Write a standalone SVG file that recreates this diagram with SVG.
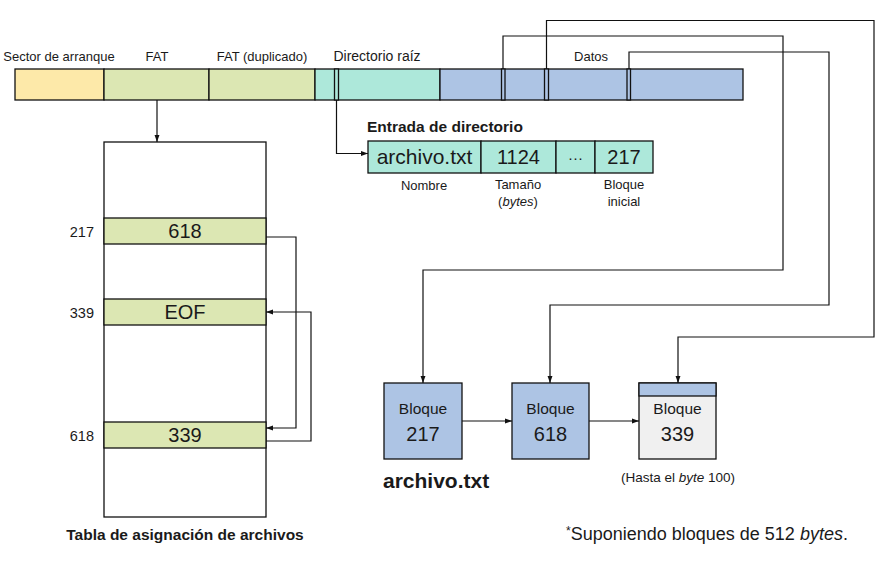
<svg xmlns="http://www.w3.org/2000/svg" width="880" height="566" viewBox="0 0 880 566">
<defs>
<marker id="ah" viewBox="0 0 10 10" refX="10" refY="5" markerWidth="7" markerHeight="7" markerUnits="userSpaceOnUse" orient="auto">
<path d="M0,1.5 L10,5 L0,8.5 z" fill="#111"/>
</marker>
<style>
text{font-family:"Liberation Sans","DejaVu Sans",sans-serif;fill:#1a1a1a}
.s{stroke:#111;stroke-width:1.3}
.l{fill:none;stroke:#111;stroke-width:1.2}
.a{fill:none;stroke:#111;stroke-width:1.2;marker-end:url(#ah)}
.lab{font-size:13px;text-anchor:middle}
.big{font-size:20px;text-anchor:middle}
.mid{font-size:15.5px;text-anchor:middle}
.y{fill:#fde9a9}.g{fill:#dce7b3}.t{fill:#ade8da}.bl{fill:#adc4e4}.w{fill:#fff}.gr{fill:#f0f0f0}
</style>
</defs>
<g id="disk">
<rect class="s y" x="15" y="69" width="89" height="31"/>
<rect class="s g" x="104" y="69" width="105" height="31"/>
<rect class="s g" x="209" y="69" width="106" height="31"/>
<rect class="s t" x="315" y="69" width="125" height="31"/>
<rect class="s t" x="334.5" y="69" width="4" height="31"/>
<rect class="s bl" x="440" y="69" width="303" height="31"/>
<rect class="s bl" x="501.5" y="69" width="3.5" height="31"/>
<rect class="s bl" x="544.5" y="69" width="4" height="31"/>
<rect class="s bl" x="627" y="69" width="3.5" height="31"/>
<text class="lab" x="59" y="61">Sector de arranque</text>
<text class="lab" x="157" y="61">FAT</text>
<text class="lab" x="262" y="61">FAT (duplicado)</text>
<text class="lab" x="377" y="61" style="font-size:14px">Directorio raíz</text>
<text class="lab" x="591" y="61">Datos</text>
</g>
<g id="entry">
<text x="367" y="132" style="font-size:15.5px;font-weight:bold">Entrada de directorio</text>
<rect class="s t" x="368" y="141" width="113" height="32"/>
<rect class="s t" x="481" y="141" width="75" height="32"/>
<rect class="s t" x="556" y="141" width="39" height="32"/>
<rect class="s t" x="595" y="141" width="58" height="32"/>
<text class="big" x="424.5" y="164" style="font-size:21px">archivo.txt</text>
<text class="big" x="518.5" y="164">1124</text>
<text class="big" x="575.5" y="163" style="font-size:15px">···</text>
<text class="big" x="624" y="164">217</text>
<text class="lab" x="424" y="190">Nombre</text>
<text class="lab" x="518" y="189">Tamaño</text>
<text class="lab" x="518" y="206">(<tspan font-style="italic">bytes</tspan>)</text>
<text class="lab" x="624" y="189">Bloque</text>
<text class="lab" x="624" y="206">inicial</text>
</g>
<g id="fat">
<rect class="s w" x="104" y="142" width="162" height="375"/>
<rect class="s g" x="104" y="218" width="162" height="26"/>
<rect class="s g" x="104" y="299" width="162" height="26"/>
<rect class="s g" x="104" y="422" width="162" height="26"/>
<text class="big" x="185" y="238">618</text>
<text class="big" x="185" y="319">EOF</text>
<text class="big" x="185" y="442">339</text>
<text x="94" y="237" style="font-size:14.5px;text-anchor:end">217</text>
<text x="94" y="318" style="font-size:14.5px;text-anchor:end">339</text>
<text x="94" y="441" style="font-size:14.5px;text-anchor:end">618</text>
<text x="185" y="540" style="font-size:15.5px;font-weight:bold;text-anchor:middle">Tabla de asignación de archivos</text>
</g>
<g id="block217">
<rect class="s bl" x="384" y="383" width="78" height="76"/>
<text class="mid" x="423" y="414">Bloque</text>
<text class="big" x="423" y="441">217</text>
</g>
<g id="block618">
<rect class="s bl" x="512" y="383" width="77" height="76"/>
<text class="mid" x="550.5" y="414">Bloque</text>
<text class="big" x="550.5" y="441">618</text>
</g>
<g id="block339">
<rect class="s gr" x="639" y="383" width="77" height="76"/>
<rect class="s bl" x="639" y="383" width="77" height="13"/>
<text class="mid" x="677.5" y="414">Bloque</text>
<text class="big" x="677.5" y="441">339</text>
<text x="678" y="482" style="font-size:13.5px;text-anchor:middle">(Hasta el <tspan font-style="italic">byte</tspan> 100)</text>
</g>
<g id="labels">
<text x="383" y="488" style="font-size:21px;font-weight:bold">archivo.txt</text>
<text x="566" y="540" style="font-size:18px"><tspan dy="-5" style="font-size:12px">*</tspan><tspan dy="5">Suponiendo bloques de 512 </tspan><tspan font-style="italic">bytes</tspan>.</text>
</g>
<g id="connectors">
<path class="a" d="M157,100 V142"/>
<path class="a" d="M336.5,100 V153.5 H368"/>
<path class="a" d="M503,69 V36 H783 V270 H423 V383"/>
<path class="a" d="M546.5,69 V20.5 H874 V337 H678 V383"/>
<path class="a" d="M629,69 V52 H829 V305 H550 V383"/>
<path class="a" d="M266,237 H296 V428 H266"/>
<path class="a" d="M266,441 H311 V312 H266"/>
<path class="a" d="M462,421 H512"/>
<path class="a" d="M589,421 H639"/>
</g>
</svg>
